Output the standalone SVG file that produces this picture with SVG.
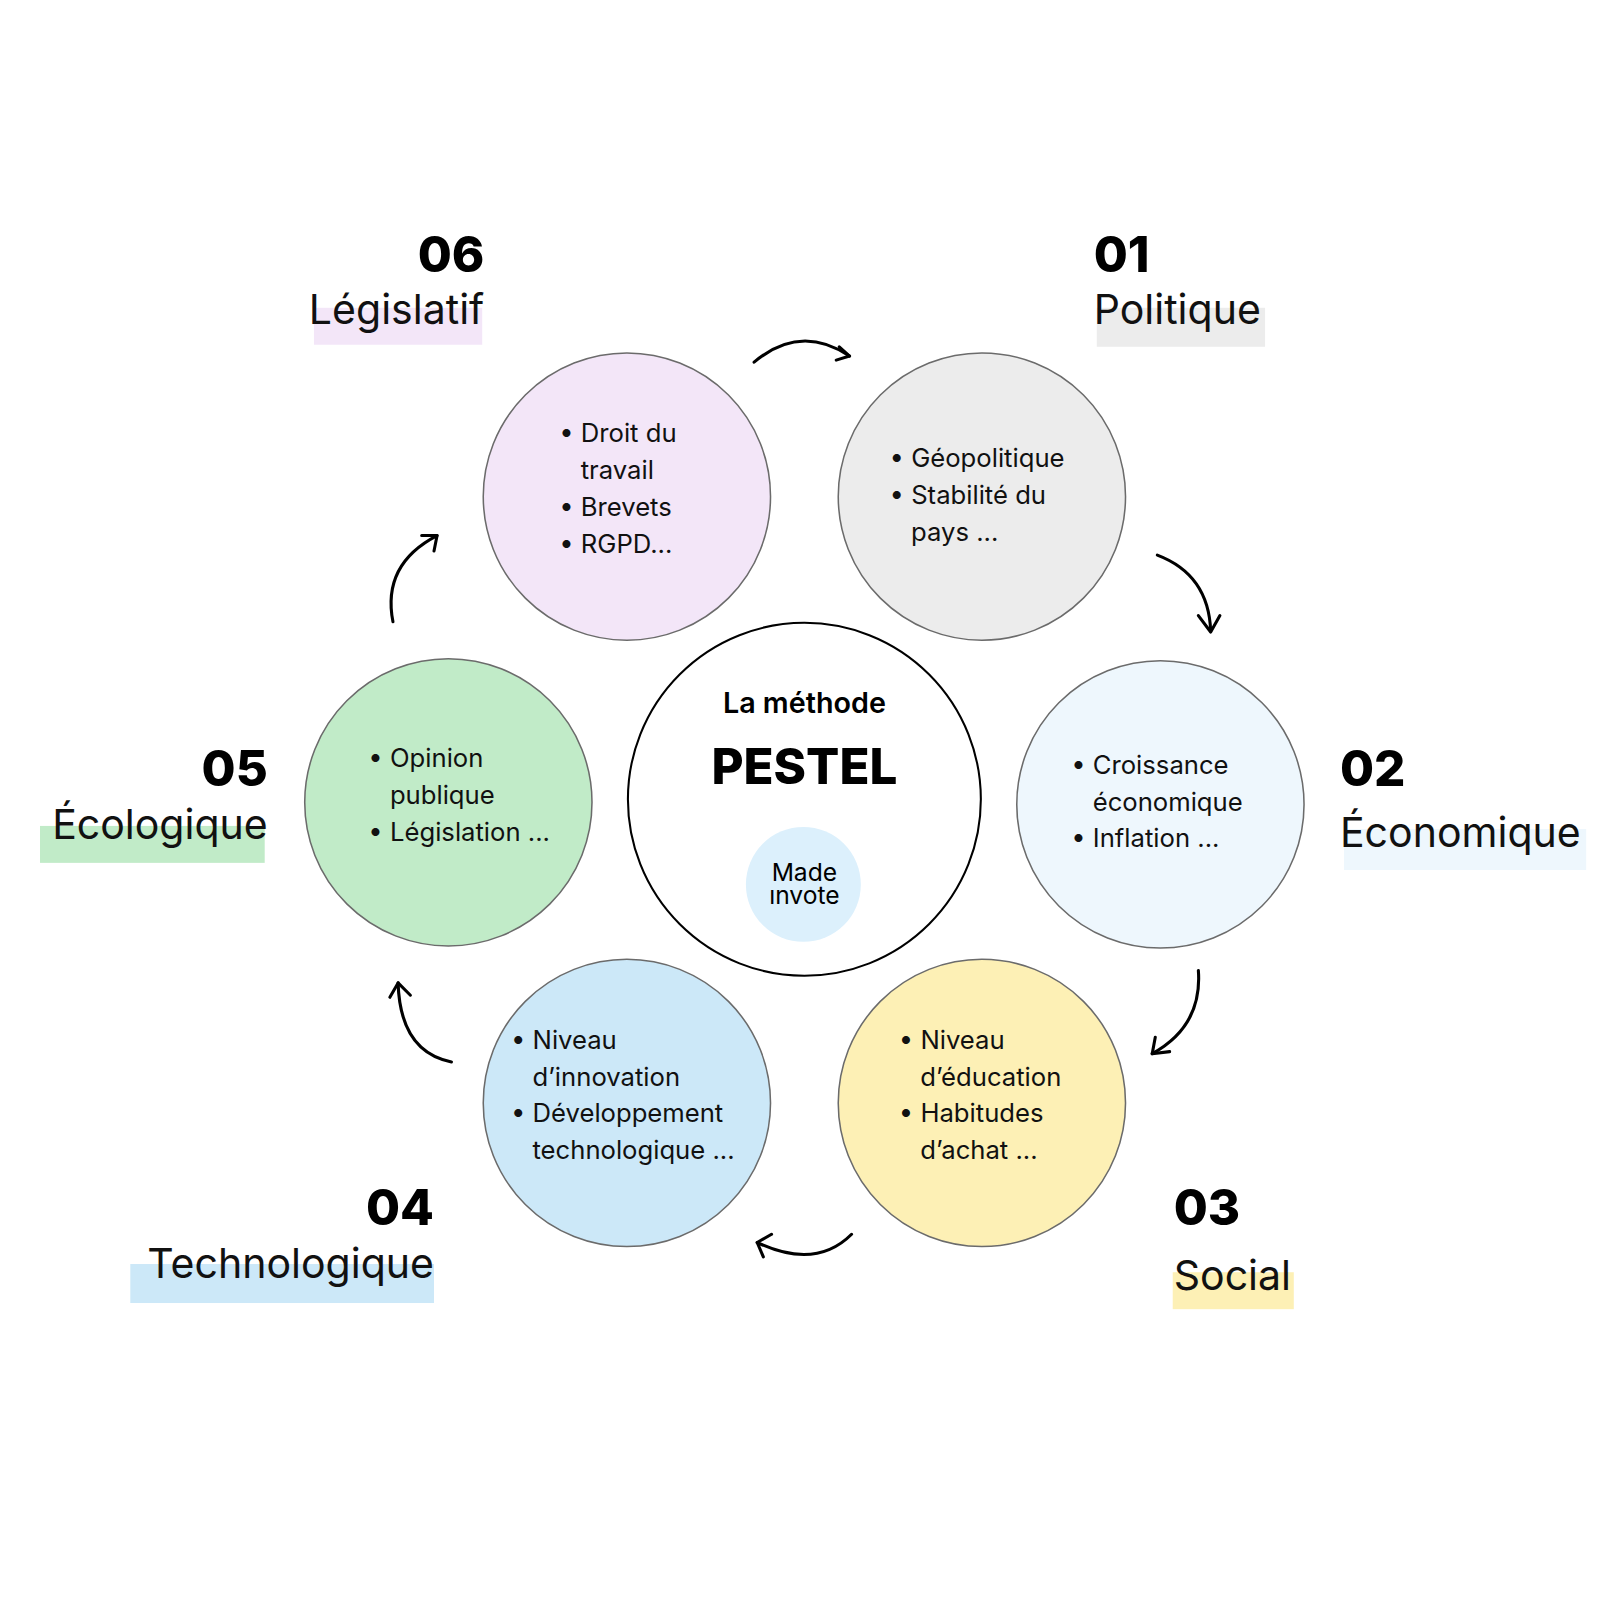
<svg xmlns="http://www.w3.org/2000/svg" width="1600" height="1600" viewBox="0 0 1600 1600">
<style>
.c{stroke:#6b6b6b;stroke-width:1.5}
.num{font-family:Inter,"Liberation Sans",sans-serif;font-weight:800;font-size:48px;fill:#000}
.lab{font-family:Inter,"Liberation Sans",sans-serif;font-size:40px;fill:#111}
.it{font-family:Inter,"Liberation Sans",sans-serif;font-size:25px;fill:#111}
.con{fill:none;stroke:#000;stroke-width:3;stroke-linecap:round;stroke-linejoin:round}
</style>
<rect width="1600" height="1600" fill="#fff"/>
<g transform="scale(1.026)">
<g id="n06">
<rect x="306" y="300" width="164" height="36" fill="#f3e6f8"/>
<text class="num" x="472" y="265" text-anchor="end">06</text>
<text class="lab" x="472" y="316" text-anchor="end">Législatif</text>
<circle class="c" cx="611" cy="484" r="140" fill="#f3e6f8"/>
<text class="it"><tspan x="545" y="431">•  Droit du</tspan><tspan x="566" y="467">travail</tspan><tspan x="545" y="503">•  Brevets</tspan><tspan x="545" y="539">•  RGPD...</tspan></text>
</g>
<g id="n01">
<rect x="1069" y="300" width="164" height="38" fill="#ececec"/>
<text class="num" x="1066" y="265">01</text>
<text class="lab" x="1066" y="316">Politique</text>
<circle class="c" cx="957" cy="484" r="140" fill="#ececec"/>
<text class="it"><tspan x="867" y="455">•  Géopolitique</tspan><tspan x="867" y="491">•  Stabilité du</tspan><tspan x="888" y="527">pays ...</tspan></text>
</g>
<g id="n02">
<rect x="1310" y="808" width="236" height="40" fill="#eef7fd"/>
<text class="num" x="1306" y="766">02</text>
<text class="lab" x="1306" y="826">Économique</text>
<circle class="c" cx="1131" cy="784" r="140" fill="#eef7fd"/>
<text class="it"><tspan x="1044" y="754">•  Croissance</tspan><tspan x="1065" y="790">économique</tspan><tspan x="1044" y="826">•  Inflation ...</tspan></text>
</g>
<g id="n03">
<rect x="1143" y="1240" width="118" height="36" fill="#fdf0b5"/>
<text class="num" x="1144" y="1194">03</text>
<text class="lab" x="1144" y="1257">Social</text>
<circle class="c" cx="957" cy="1075" r="140" fill="#fdf0b5"/>
<text class="it"><tspan x="876" y="1022">•  Niveau</tspan><tspan x="897" y="1058">d’éducation</tspan><tspan x="876" y="1094">•  Habitudes</tspan><tspan x="897" y="1130">d’achat ...</tspan></text>
</g>
<g id="n04">
<rect x="127" y="1232" width="296" height="38" fill="#cce8f8"/>
<text class="num" x="423" y="1194" text-anchor="end">04</text>
<text class="lab" x="423" y="1246" text-anchor="end">Technologique</text>
<circle class="c" cx="611" cy="1075" r="140" fill="#cce8f8"/>
<text class="it"><tspan x="498" y="1022">•  Niveau</tspan><tspan x="519" y="1058">d’innovation</tspan><tspan x="498" y="1094">•  Développement</tspan><tspan x="519" y="1130">technologique ...</tspan></text>
</g>
<g id="n05">
<rect x="39" y="805" width="219" height="36" fill="#c1ebc8"/>
<text class="num" x="261" y="766" text-anchor="end">05</text>
<text class="lab" x="261" y="818" text-anchor="end">Écologique</text>
<circle class="c" cx="437" cy="782" r="140" fill="#c1ebc8"/>
<text class="it"><tspan x="359" y="748">•  Opinion</tspan><tspan x="380" y="784">publique</tspan><tspan x="359" y="820">•  Législation ...</tspan></text>
</g>
<g id="center">
<circle cx="784" cy="779" r="172" fill="#fff" stroke="#000" stroke-width="2"/>
<text x="784" y="695" text-anchor="middle" font-family="Inter,'Liberation Sans',sans-serif" font-weight="600" font-size="28">La méthode</text>
<text x="784" y="764" text-anchor="middle" font-family="Inter,'Liberation Sans',sans-serif" font-weight="800" font-size="48">PESTEL</text>
<circle cx="783" cy="862" r="56" fill="#dcf0fc"/>
<text x="784" y="859" text-anchor="middle" font-family="Inter,'Liberation Sans',sans-serif" font-size="24">Made</text>
<text x="784" y="881" text-anchor="middle" font-family="Inter,'Liberation Sans',sans-serif" font-size="24">ınvote</text>
</g>
<g id="connectors">
<path class="con" d="M735,353 Q780,315 828,347"/>
<path class="con" d="M818,338 L828,347 L815,351"/>
<path class="con" d="M1128,541 Q1178,560 1180,615"/>
<path class="con" d="M1168,600 L1180,616 L1189,600"/>
<path class="con" d="M1168,946 Q1172,1000 1123,1027"/>
<path class="con" d="M1126,1011 L1123,1027 L1140,1025"/>
<path class="con" d="M830,1203 Q795,1238 738,1211"/>
<path class="con" d="M744,1225 L738,1211 L752,1203"/>
<path class="con" d="M440,1035 Q390,1025 388,958"/>
<path class="con" d="M380,972 L388,958 L400,970"/>
<path class="con" d="M383,606 Q372,550 426,522"/>
<path class="con" d="M411,522 L426,522 L423,537"/>
</g>
</g>
</svg>
